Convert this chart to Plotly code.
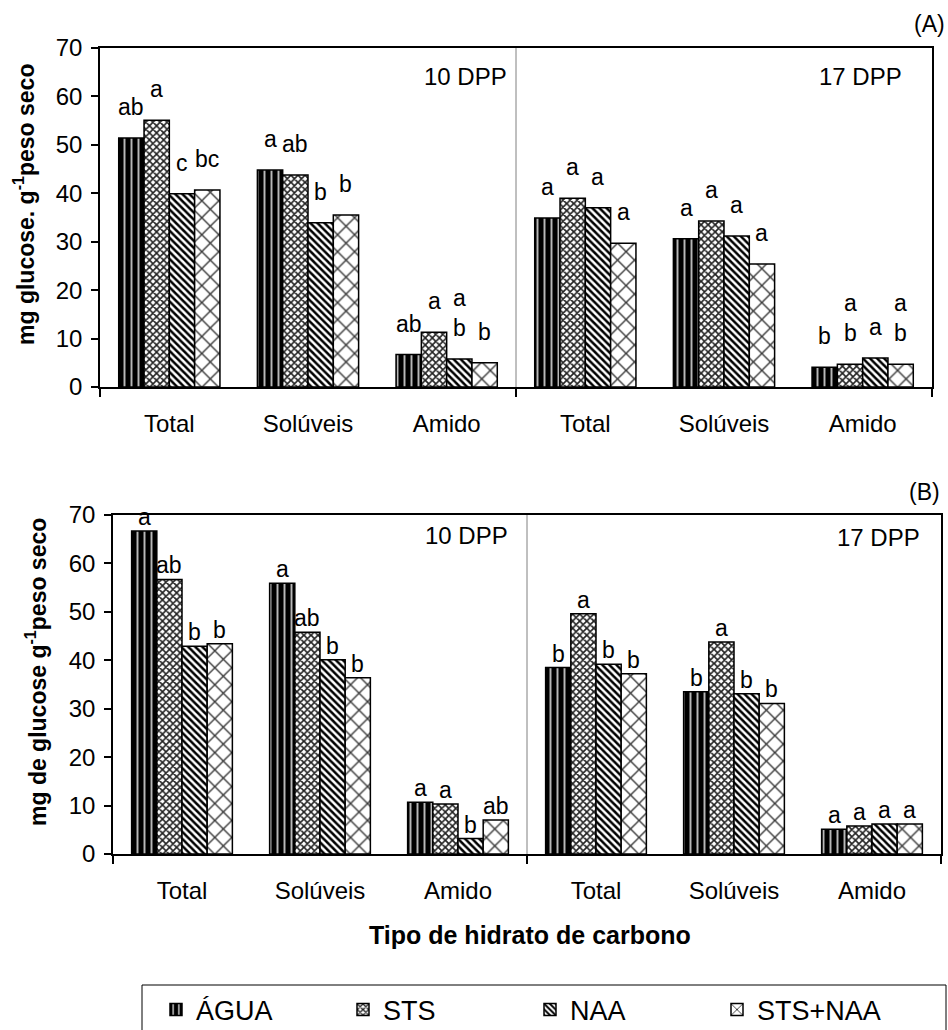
import plotly.graph_objects as go

W, H = 948, 1030
FONT = "Liberation Sans, Arial, sans-serif"

categories = ["Total", "Solúveis", "Amido", "Total", "Solúveis", "Amido"]
treatments = ["ÁGUA", "STS", "NAA", "STS+NAA"]

# Panel A (10 DPP: Total, Solúveis, Amido | 17 DPP: Total, Solúveis, Amido)
a_agua = [51.4, 44.8, 6.7, 34.9, 30.6, 4.1]
a_sts = [55.1, 43.8, 11.3, 39.0, 34.3, 4.7]
a_naa = [39.9, 33.9, 5.8, 37.0, 31.2, 6.0]
a_stsnaa = [40.7, 35.5, 5.0, 29.7, 25.4, 4.7]
a_lab_agua = ["ab", "a", "ab", "a", "a", "b"]
a_lab_sts = ["a", "ab", "a", "a", "a", "a<br>b"]
a_lab_naa = ["c", "b", "a<br>b", "a", "a", "a"]
a_lab_stsnaa = ["bc", "b", "b", "a", "a", "a<br>b"]

# Panel B
b_agua = [66.7, 55.9, 10.7, 38.5, 33.5, 5.1]
b_sts = [56.7, 45.8, 10.3, 49.6, 43.8, 5.8]
b_naa = [42.9, 40.1, 3.2, 39.2, 33.1, 6.2]
b_stsnaa = [43.4, 36.4, 7.0, 37.2, 31.1, 6.2]
b_lab_agua = ["a", "a", "a", "b", "b", "a"]
b_lab_sts = ["ab", "ab", "a", "a", "a", "a"]
b_lab_naa = ["b", "b", "b", "b", "b", "a"]
b_lab_stsnaa = ["b", "b", "ab", "b", "b", "a"]

y_ticks = [0, 10, 20, 30, 40, 50, 60, 70]

panel_a_vals = [a_agua, a_sts, a_naa, a_stsnaa]
panel_a_labs = [a_lab_agua, a_lab_sts, a_lab_naa, a_lab_stsnaa]
panel_b_vals = [b_agua, b_sts, b_naa, b_stsnaa]
panel_b_labs = [b_lab_agua, b_lab_sts, b_lab_naa, b_lab_stsnaa]

patterns = [
    dict(shape="|", bgcolor="black", fgcolor="#b8b8b8", size=7, solidity=0.28, fillmode="replace"),
    dict(shape="x", bgcolor="white", fgcolor="#222222", size=5, solidity=0.55, fillmode="replace"),
    dict(shape="\\", bgcolor="white", fgcolor="black", size=5, solidity=0.5, fillmode="replace"),
    dict(shape="x", bgcolor="white", fgcolor="#3a3a3a", size=12, solidity=0.22, fillmode="replace"),
]
BARGAP = 0.27

fig = go.Figure()
xs = list(range(len(categories)))

for i, t in enumerate(treatments):
    fig.add_trace(go.Bar(
        x=xs, y=panel_a_vals[i], name=t, legendgroup=t, showlegend=True,
        xaxis="x", yaxis="y",
        marker=dict(color=patterns[i]["bgcolor"], pattern=patterns[i],
                    line=dict(color="black", width=1.5)),
        hoverinfo="skip",
    ))
for i, t in enumerate(treatments):
    fig.add_trace(go.Bar(
        x=xs, y=panel_b_vals[i], name=t, legendgroup=t, showlegend=False,
        xaxis="x2", yaxis="y2",
        marker=dict(color=patterns[i]["bgcolor"], pattern=patterns[i],
                    line=dict(color="black", width=1.5)),
        hoverinfo="skip",
    ))

annotations = []
n = len(treatments)
bw = (1 - BARGAP) / n
for vals, labs, xr, yr, ysh in [(panel_a_vals, panel_a_labs, "x", "y", 16),
                                 (panel_b_vals, panel_b_labs, "x2", "y2", -1)]:
    for i in range(n):
        for j in range(len(categories)):
            annotations.append(dict(
                x=j + (i - (n - 1) / 2) * bw, y=vals[i][j], xref=xr, yref=yr,
                text=labs[i][j], showarrow=False, yanchor="bottom", xanchor="center",
                yshift=ysh, font=dict(family=FONT, size=23, color="black"),
            ))

def px_x(p):
    return p / W

def px_y(p):
    return 1 - p / H

# DPP labels and panel letters
for txt, xr, yc in [("10 DPP", 509, 76), ("17 DPP", 904, 76), ("10 DPP", 510, 535), ("17 DPP", 922, 537)]:
    annotations.append(dict(text=txt, x=px_x(xr), y=px_y(yc), xref="paper", yref="paper",
                            xanchor="right", yanchor="middle", showarrow=False,
                            font=dict(family=FONT, size=24, color="black")))
for txt, xr, yc in [("(A)", 947, 24), ("(B)", 942, 492)]:
    annotations.append(dict(text=txt, x=px_x(xr), y=px_y(yc), xref="paper", yref="paper",
                            xanchor="right", yanchor="middle", showarrow=False,
                            font=dict(family=FONT, size=23, color="black")))

# axis titles
annotations.append(dict(text="<b>mg glucose. g<sup>-1</sup>peso seco</b>", x=px_x(24), y=px_y(205),
                        xref="paper", yref="paper", textangle=-90, showarrow=False,
                        xanchor="center", yanchor="middle",
                        font=dict(family=FONT, size=23, color="black")))
annotations.append(dict(text="<b>mg de glucose g<sup>-1</sup>peso seco</b>", x=px_x(36), y=px_y(672),
                        xref="paper", yref="paper", textangle=-90, showarrow=False,
                        xanchor="center", yanchor="middle",
                        font=dict(family=FONT, size=23, color="black")))
annotations.append(dict(text="<b>Tipo de hidrato de carbono</b>", x=px_x(530), y=px_y(935),
                        xref="paper", yref="paper", showarrow=False,
                        xanchor="center", yanchor="middle",
                        font=dict(family=FONT, size=25, color="black")))

shapes = [
    dict(type="line", xref="x", yref="y domain", x0=2.5, x1=2.5, y0=0, y1=1,
         line=dict(color="#808080", width=1)),
    dict(type="line", xref="x2", yref="y2 domain", x0=2.5, x1=2.5, y0=0, y1=1,
         line=dict(color="#808080", width=1)),
    dict(type="rect", xref="paper", yref="paper", x0=px_x(142), x1=px_x(946),
         y0=px_y(1040), y1=px_y(985), line=dict(color="black", width=1)),
]

def xaxis_cfg(dom, anchor):
    return dict(domain=dom, anchor=anchor, range=[-0.5, 5.5], tickmode="array",
                tickvals=xs, ticktext=categories, ticks="", showline=True, linecolor="black",
                linewidth=1.5, mirror=True, showgrid=False, zeroline=False,
                ticklabelstandoff=14, fixedrange=True, automargin=False,
                tickfont=dict(family=FONT, size=24, color="black"),
                minor=dict(tickmode="array", tickvals=[-0.5, 2.5, 5.5], ticks="outside",
                           ticklen=8, tickcolor="black", tickwidth=1.5, showgrid=False))

def yaxis_cfg(dom, anchor):
    return dict(domain=dom, anchor=anchor, range=[0, 70], tickmode="array", tickvals=y_ticks,
                ticks="outside", ticklen=7, tickcolor="black", tickwidth=1.5,
                showline=True, linecolor="black", linewidth=1.5, mirror=True,
                showgrid=False, zeroline=False, fixedrange=True, ticklabelstandoff=4,
                automargin=False,
                tickfont=dict(family=FONT, size=24, color="black"))

fig.update_layout(
    width=W, height=H,
    margin=dict(l=0, r=0, t=0, b=0, pad=0, autoexpand=False),
    paper_bgcolor="white", plot_bgcolor="white",
    barmode="group", bargap=BARGAP, bargroupgap=0,
    xaxis=xaxis_cfg([px_x(100), px_x(932)], "y"),
    yaxis=yaxis_cfg([px_y(387), px_y(48)], "x"),
    xaxis2=xaxis_cfg([px_x(113), px_x(941)], "y2"),
    yaxis2=yaxis_cfg([px_y(854), px_y(515)], "x2"),
    annotations=annotations,
    shapes=shapes,
    showlegend=True,
    legend=dict(orientation="h", x=px_x(156), y=px_y(1010), xanchor="left", yanchor="middle",
                entrywidth=142, entrywidthmode="pixels", bgcolor="rgba(0,0,0,0)",
                borderwidth=0, font=dict(family=FONT, size=27, color="black"),
                itemclick=False, itemdoubleclick=False),
)

fig.write_html("out.html")
